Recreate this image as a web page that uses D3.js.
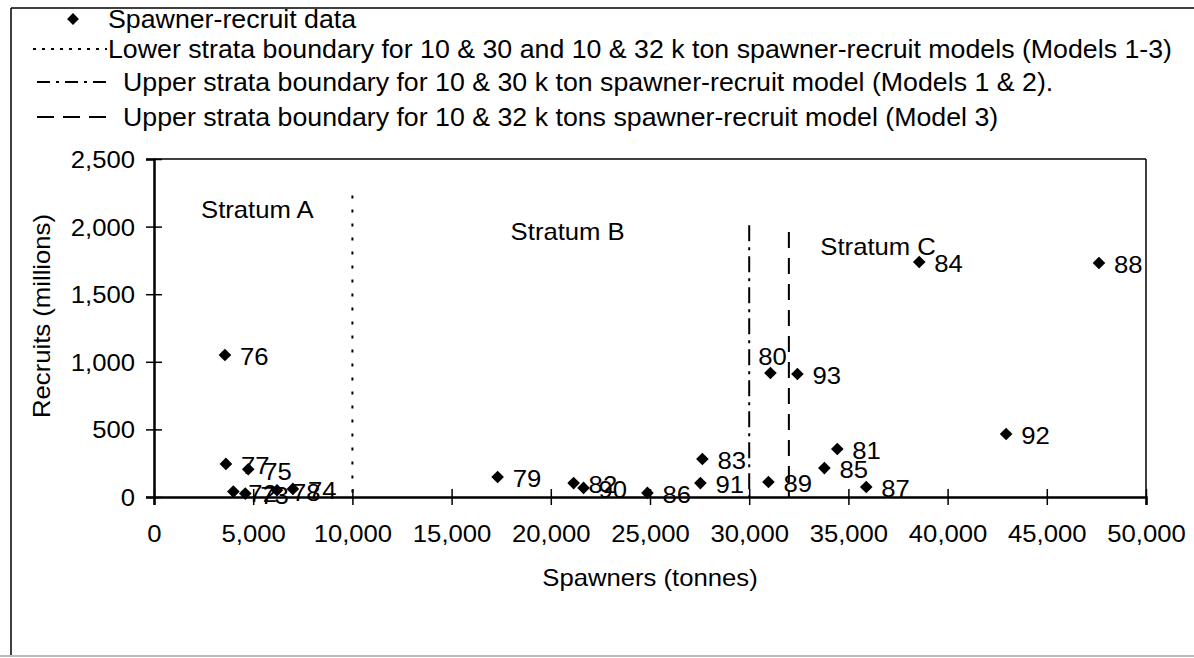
<!DOCTYPE html>
<html><head><meta charset="utf-8">
<script src="https://cdn.jsdelivr.net/npm/d3@7"></script>
<style>
body{margin:0;background:#fff}
svg{display:block}
text{font-family:"Liberation Sans",Arial,Helvetica,sans-serif;fill:#000}
</style>
</head><body>
<svg id="c" width="1194" height="658"></svg>
<script>
// ---- data ----
const years    = ["72","73","74","75","76","77","78","79","80","81","82","83","84","85","86","87","88","89","90","91","92","93"];
const spawners = [4000,4600,7000,4750,3575,3625,6200,17320,31070,34440,21150,27640,38570,33790,24870,35900,47630,30970,21650,27540,42950,32430];
const recruits = [40,25,60,205,1050,245,50,148,917,355,103,281,1738,214,30,74,1731,111,67,103,466,910];
const labelAbove = ["80"];
const xTicks = [0,5000,10000,15000,20000,25000,30000,35000,40000,45000,50000];
const yTicks = [0,500,1000,1500,2000,2500];
const boundaryX   = [10000, 30000, 32000];
const boundaryTop = [2230, 2010, 1960];
const boundaryStyle = ["dotted","dashdot","dashed"];
const strataNames = ["Stratum A","Stratum B","Stratum C"];
const strataX = [2370, 17975, 33585];
const strataY = [2123, 1960, 1849];
const legendTexts = [
  "Spawner-recruit data",
  "Lower strata boundary for 10 & 30 and 10 & 32 k ton spawner-recruit models (Models 1-3)",
  "Upper strata boundary for 10 & 30 k ton spawner-recruit model (Models 1 & 2).",
  "Upper strata boundary for 10 & 32 k tons spawner-recruit model (Model 3)"
];
const legendStyle = ["marker","dotted","dashdot","dashed"];
const xTitle = "Spawners (tonnes)";
const yTitle = "Recruits (millions)";

// ---- layout ----
const svg = d3.select("#c");
const L = 154, R = 1146, T = 159, B = 497;
const FS = 24, SX = 1.07;
const x = d3.scaleLinear().domain([0,50000]).range([L,R]);
const y = d3.scaleLinear().domain([0,2500]).range([B,T]);
const plotDash = {dotted:"3,11", dashdot:"16,6,3,6", dashed:"16,10"};
const legDash  = {dotted:"3,6",  dashdot:"13,6,3,6", dashed:"17,9"};

function txt(g, tx, ty, s, anchor, rot, fs){
  return g.append("text")
    .attr("transform",`translate(${tx},${ty})${rot?` rotate(${rot})`:""} scale(${SX},1)`)
    .attr("dy","0.35em").attr("text-anchor",anchor||"start").attr("font-size",fs||FS).text(s);
}

// outer frame
svg.append("line").attr("x1",11).attr("x2",11).attr("y1",8).attr("y2",656).attr("stroke","#000").attr("stroke-width",1.5);
svg.append("line").attr("x1",11).attr("x2",1194).attr("y1",8).attr("y2",8).attr("stroke","#000").attr("stroke-width",1.5);
svg.append("line").attr("x1",0).attr("x2",1194).attr("y1",656).attr("y2",656).attr("stroke","#bbb").attr("stroke-width",2);

// legend
const legY = [19, 49, 82, 117];
const lg = svg.append("g");
legendTexts.forEach((t,i)=>{
  const st = legendStyle[i];
  if(st==="marker"){
    lg.append("path").attr("d",d3.symbol(d3.symbolSquare,70)()).attr("transform",`translate(73,${legY[i]}) rotate(45)`).attr("fill","#000");
  } else {
    lg.append("line").attr("x1", st==="dotted"?33:37).attr("x2", st==="dotted"?107:112)
      .attr("y1",legY[i]).attr("y2",legY[i]).attr("stroke","#000").attr("stroke-width",2)
      .attr("stroke-dasharray",legDash[st]);
  }
  txt(lg, i<2?108:123, legY[i], t, "start", 0, 25);
});

// plot border (top/right)
svg.append("line").attr("x1",L).attr("x2",R).attr("y1",T).attr("y2",T).attr("stroke","#000").attr("stroke-width",1.5);
svg.append("line").attr("x1",R).attr("x2",R).attr("y1",T).attr("y2",B).attr("stroke","#000").attr("stroke-width",1.5);

// axes
const xa = svg.append("g").attr("transform",`translate(0,${B})`)
  .call(d3.axisBottom(x).tickValues(xTicks).tickFormat(d3.format(",")).tickSize(8));
xa.select(".domain").attr("stroke-width",2.5);
xa.selectAll(".tick line").attr("y1",-8).attr("y2",8).attr("stroke-width",1.5);
xa.selectAll(".tick text").attr("font-size",FS).attr("font-family",null)
  .attr("y",0).attr("dy","0.35em").attr("transform",`translate(0,37) scale(${SX},1)`);

const ya = svg.append("g").attr("transform",`translate(${L},0)`)
  .call(d3.axisLeft(y).tickValues(yTicks).tickFormat(d3.format(",")).tickSize(8));
ya.select(".domain").attr("stroke-width",2.5);
ya.selectAll(".tick line").attr("x1",-8).attr("x2",8).attr("stroke-width",1.5);
ya.selectAll(".tick text").attr("font-size",FS).attr("font-family",null)
  .attr("x",0).attr("dy","0.35em").attr("transform",`translate(-19,0) scale(${SX},1)`);

// titles
txt(svg, 650, 578, xTitle, "middle");
txt(svg, 42, 316, yTitle, "middle", -90);

// boundaries
boundaryX.forEach((bx,i)=>{
  svg.append("line").attr("x1",x(bx)).attr("x2",x(bx)).attr("y1",y(boundaryTop[i])).attr("y2",B)
    .attr("stroke","#000").attr("stroke-width",2).attr("stroke-dasharray",plotDash[boundaryStyle[i]]);
});

// strata labels
strataNames.forEach((s,i)=>{ txt(svg, x(strataX[i]), y(strataY[i]), s); });

// points
const pts = svg.append("g");
years.forEach((yr,i)=>{
  pts.append("path").attr("d",d3.symbol(d3.symbolSquare,80)())
    .attr("transform",`translate(${x(spawners[i])},${y(recruits[i])}) rotate(45)`).attr("fill","#000");
});
years.forEach((yr,i)=>{
  const px = x(spawners[i]), py = y(recruits[i]);
  const above = labelAbove.includes(yr);
  txt(pts, above? px+2 : px+15, above? py-16 : py+2, yr, above?"middle":"start");
});
</script>
</body></html>
